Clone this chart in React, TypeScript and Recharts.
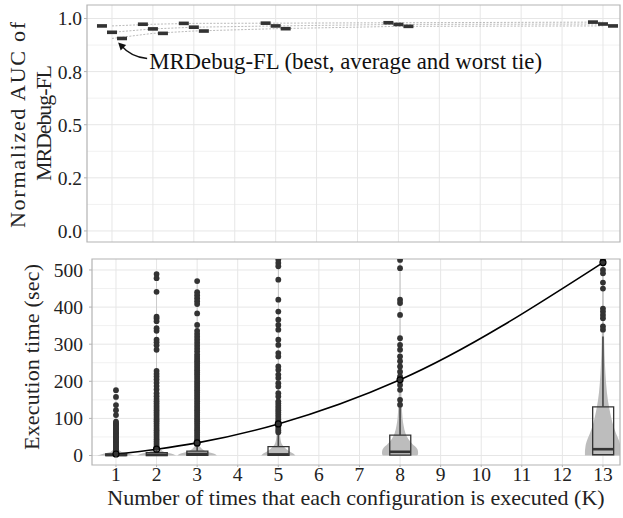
import {
  Area,
  Bar,
  ComposedChart,
  ErrorBar,
  Line,
  ReferenceArea,
  ReferenceDot,
  ReferenceLine,
  Scatter,
  XAxis,
  YAxis,
} from 'recharts'

// ---- data ----
const K_VALUES = [1, 2, 3, 5, 8, 13]
const K_TICKS = [1, 2, 3, 4, 5, 6, 7, 8, 9, 10, 11, 12, 13]

// top panel: normalized AUC of MRDebug-FL
const AUC_BEST = [0.965, 0.973, 0.977, 0.978, 0.98, 0.983]
const AUC_AVG = [0.935, 0.951, 0.959, 0.965, 0.972, 0.974]
const AUC_WORST = [0.906, 0.93, 0.941, 0.952, 0.963, 0.965]
const AUC_TICKS = [0, 0.25, 0.5, 0.75, 1]
const AUC_TICK_LABELS = ['0.0', '0.2', '0.5', '0.8', '1.0']
const AUC_MINOR = [0.125, 0.375, 0.625, 0.875]

// bottom panel: execution time (sec)
const BOX_Q1 = [0, 0, 0.5, 0.5, 1, 2]
const BOX_MEDIAN = [1.5, 2, 4, 3, 10, 17]
const BOX_Q3 = [4, 8, 12, 24, 55, 131]
const WHISKER_HI = [10, 20, 29, 58, 132, 321]
const MEAN_TIME = [4, 17, 34, 85, 204, 520]
const TIME_TICKS = [0, 100, 200, 300, 400, 500]
const TIME_MINOR = [50, 150, 250, 350, 450]

const OUT_K1 = [176, 158, 136, 122, 109, 91, 87, 84, 80, 77, 73, 70, 66, 63, 59, 56, 52, 49, 45, 42, 38, 35, 31, 28, 24, 21, 17, 14, 11]
const OUT_K2 = [
  489, 478, 441, 374, 369, 362, 343, 336, 312, 305, 297, 285, 228, 220, 213, 205, 196, 187, 178, 168, 160, 152, 146, 140,
  134, 128, 122, 116, 110, 104, 98, 92, 86, 80, 74, 68, 62, 56, 50, 44, 38, 32, 26, 21,
]
const OUT_K3 = [
  470, 440, 432, 424, 416, 408, 383, 352, 336, 328, 320, 312, 304, 296, 288, 280, 272, 266, 260, 254, 248, 242, 236, 230,
  224, 218, 212, 206, 200, 194, 188, 182, 176, 170, 164, 158, 152, 146, 140, 134, 128, 122, 116, 110, 104, 98, 92, 86,
  80, 74, 68, 62, 56, 50, 44, 38, 32,
]
const OUT_K5 = [
  528, 519, 510, 474, 420, 388, 366, 352, 339, 312, 298, 276, 267, 240, 231, 218, 209, 195, 186, 168, 159, 146, 140, 134,
  128, 122, 116, 110, 104, 98, 92, 86, 80, 74, 68, 63,
]
const OUT_K8 = [527, 505, 420, 411, 379, 316, 298, 285, 267, 254, 240, 226, 213, 204, 190, 177, 150, 137]
const OUT_K13 = [529, 518, 500, 491, 466, 450, 396, 388, 379, 370, 348, 339]

// violin densities (relative half width) at these time levels; null = outside data range
const VIOLIN_T = [0, 5, 10, 20, 30, 45, 60, 80, 100, 130, 170, 220, 270, 330, 400, 470, 525]
const VIOLIN_K1 = [1.05, 0.7, 0.28, 0.11, 0.07, 0.045, 0.035, 0.03, 0.025, 0.02, 0.018, null, null, null, null, null, null]
const VIOLIN_K2 = [1.1, 0.85, 0.4, 0.17, 0.09, 0.06, 0.045, 0.035, 0.03, 0.025, 0.02, 0.02, 0.02, 0.018, 0.018, 0.018, null]
const VIOLIN_K3 = [1.1, 0.95, 0.55, 0.22, 0.11, 0.075, 0.055, 0.045, 0.035, 0.03, 0.025, 0.022, 0.02, 0.02, 0.018, 0.018, null]
const VIOLIN_K5 = [0.95, 0.85, 0.65, 0.38, 0.2, 0.12, 0.09, 0.07, 0.055, 0.045, 0.035, 0.03, 0.025, 0.022, 0.02, 0.02, 0.02]
const VIOLIN_K8 = [0.95, 1.0, 1.0, 0.92, 0.7, 0.45, 0.3, 0.2, 0.14, 0.1, 0.07, 0.05, 0.04, 0.03, 0.025, 0.025, 0.025]
const VIOLIN_K13 = [1.0, 1.0, 1.0, 0.98, 0.95, 0.85, 0.72, 0.58, 0.47, 0.34, 0.22, 0.14, 0.09, 0.06, 0.045, 0.035, 0.03]

// ---- styling ----
const FONT = '"Liberation Serif", "DejaVu Serif", serif'
const TEXT = '#222'
const DARK = '#333'
const BORDER = '#b3b3b3'
const GRID = '#e6e6e6'
const GRID_MINOR = '#f1f1f1'
const VIOLIN_FILL = '#bdbdbd'
const DODGE = 0.245
const VIOLIN_HALF = 0.444
const TOP_X: [number, number] = [0.389, 13.416]
const TOP_Y: [number, number] = [-0.052, 1.0635]
const BOT_X: [number, number] = [0.409, 13.42]
const BOT_Y: [number, number] = [-25.6, 529.6]
const TOP_MARGIN = { top: 5, right: 3, bottom: 8, left: 87 }
const BOT_MARGIN = { top: 9, right: 3, bottom: 53, left: 92 }
const tick = { fontFamily: FONT, fontSize: 19.5, fill: TEXT }

const aucRows = K_VALUES.map((k, i) => ({ k, best: AUC_BEST[i], avg: AUC_AVG[i], worst: AUC_WORST[i] }))
const bestMarks = K_VALUES.map((k, i) => ({ k: k - DODGE, y: AUC_BEST[i] }))
const avgMarks = K_VALUES.map((k, i) => ({ k, y: AUC_AVG[i] }))
const worstMarks = K_VALUES.map((k, i) => ({ k: k + DODGE, y: AUC_WORST[i] }))

const boxRows = K_VALUES.map((k, i) => ({
  k,
  q1: BOX_Q1[i],
  q3: BOX_Q3[i],
  med: BOX_MEDIAN[i],
  mean: MEAN_TIME[i],
  err: [0, WHISKER_HI[i] - BOX_Q3[i]],
}))
const whiskerRows = boxRows.map((r) => ({ k: r.k, t: r.q3, err: r.err }))
const medianRows = boxRows.map((r) => ({ k: r.k, t: r.med }))
const outlierRows = [
  ...OUT_K1.map((t) => ({ k: 1, t })),
  ...OUT_K2.map((t) => ({ k: 2, t })),
  ...OUT_K3.map((t) => ({ k: 3, t })),
  ...OUT_K5.map((t) => ({ k: 5, t })),
  ...OUT_K8.map((t) => ({ k: 8, t })),
  ...OUT_K13.map((t) => ({ k: 13, t })),
]

const VIOLINS: [number, (number | null)[]][] = [
  [1, VIOLIN_K1],
  [2, VIOLIN_K2],
  [3, VIOLIN_K3],
  [5, VIOLIN_K5],
  [8, VIOLIN_K8],
  [13, VIOLIN_K13],
]
const violinRows = VIOLIN_T.map((t, i) => {
  const row: Record<string, unknown> = { t }
  VIOLINS.forEach(([k, dens]) => {
    const d = dens[i]
    row['v' + k] = d == null ? undefined : [k - d * VIOLIN_HALF, k + d * VIOLIN_HALF]
  })
  return row
})

const Mark = (p: any) => <rect x={p.cx - 5} y={p.cy - 1.8} width={10} height={3.6} fill={DARK} />
const MedianMark = (p: any) => (
  <line x1={p.cx - 10.5} x2={p.cx + 10.5} y1={p.cy} y2={p.cy} stroke={DARK} strokeWidth={2.6} />
)
const Empty = () => <g />

function Annotation({ cx, cy }: { cx: number; cy: number }) {
  return (
    <g>
      <path
        d={`M ${cx + 29} ${cy + 16} C ${cx + 18} ${cy + 15}, ${cx + 9} ${cy + 10}, ${cx + 3} ${cy + 3}`}
        fill="none"
        stroke="#111"
        strokeWidth={1.3}
      />
      <polygon points={`${cx},${cy} ${cx + 8},${cy + 2.5} ${cx + 2.5},${cy + 8}`} fill="#111" />
      <text x={cx + 31} y={cy + 27} fontFamily={FONT} fontSize={22.8} fill="#111">
        MRDebug-FL (best, average and worst tie)
      </text>
    </g>
  )
}

// light panel grid, drawn in its own layer so that it stays under every mark
function GridLayer({
  top,
  height,
  margin,
  xDomain,
  yDomain,
  major,
  minor,
}: {
  top: number
  height: number
  margin: typeof TOP_MARGIN
  xDomain: [number, number]
  yDomain: [number, number]
  major: number[]
  minor: number[]
}) {
  return (
    <ComposedChart
      width={623}
      height={height}
      data={K_VALUES.map((k) => ({ k }))}
      margin={margin}
      style={{ position: 'absolute', left: 0, top }}
    >
      <XAxis type="number" dataKey="k" domain={xDomain} hide allowDataOverflow />
      <YAxis type="number" domain={yDomain} hide allowDataOverflow />
      {minor.map((v) => (
        <ReferenceLine key={'m' + v} y={v} stroke={GRID_MINOR} strokeWidth={1} />
      ))}
      {major.map((v) => (
        <ReferenceLine key={'M' + v} y={v} stroke={GRID} strokeWidth={1} />
      ))}
      {K_TICKS.map((k) => (
        <ReferenceLine key={'x' + k} x={k} stroke={GRID} strokeWidth={1} />
      ))}
    </ComposedChart>
  )
}

function TopPanel() {
  return (
    <ComposedChart
      width={623}
      height={250}
      data={aucRows}
      margin={{ ...TOP_MARGIN, left: 0 }}
      style={{ position: 'absolute', left: 0, top: 0 }}
    >
      <XAxis type="number" dataKey="k" domain={TOP_X} hide allowDataOverflow />
      <YAxis
        type="number"
        domain={TOP_Y}
        ticks={AUC_TICKS}
        tickFormatter={(_v: number, i: number) => AUC_TICK_LABELS[i]}
        width={87}
        tick={tick}
        axisLine={false}
        tickLine={{ stroke: BORDER }}
        tickSize={3}
        tickMargin={2}
        allowDataOverflow
      />
      {(['best', 'avg', 'worst'] as const).map((key) => (
        <Line
          key={key}
          dataKey={key}
          type="linear"
          stroke="#a8a8a8"
          strokeWidth={0.8}
          strokeDasharray="2 1.5"
          dot={false}
          isAnimationActive={false}
        />
      ))}
      <Scatter data={bestMarks} dataKey="y" shape={Mark} isAnimationActive={false} />
      <Scatter data={avgMarks} dataKey="y" shape={Mark} isAnimationActive={false} />
      <Scatter data={worstMarks} dataKey="y" shape={Mark} isAnimationActive={false} />
      <ReferenceDot
        x={1.15}
        y={0.887}
        r={0}
        ifOverflow="visible"
        shape={(p: any) => <Annotation cx={p.cx} cy={p.cy} />}
      />
      <ReferenceArea
        x1={TOP_X[0]}
        x2={TOP_X[1]}
        y1={TOP_Y[0]}
        y2={TOP_Y[1]}
        fill="none"
        stroke={BORDER}
        strokeWidth={1.2}
        fillOpacity={0}
      />
    </ComposedChart>
  )
}

function ViolinLayer() {
  return (
    <ComposedChart
      layout="vertical"
      width={623}
      height={268}
      data={violinRows}
      margin={BOT_MARGIN}
      style={{ position: 'absolute', left: 0, top: 250 }}
    >
      <XAxis type="number" domain={BOT_X} hide allowDataOverflow />
      <YAxis type="number" dataKey="t" domain={BOT_Y} reversed hide allowDataOverflow />
      {VIOLINS.map(([k]) => (
        <Area
          key={k}
          dataKey={'v' + k}
          type="monotone"
          fill={VIOLIN_FILL}
          fillOpacity={1}
          stroke="none"
          isAnimationActive={false}
        />
      ))}
    </ComposedChart>
  )
}

function TimePanel() {
  return (
    <ComposedChart
      width={623}
      height={268}
      data={boxRows}
      margin={{ ...BOT_MARGIN, left: 0, bottom: 0 }}
      style={{ position: 'absolute', left: 0, top: 250 }}
    >
      <XAxis
        type="number"
        dataKey="k"
        domain={BOT_X}
        ticks={K_TICKS}
        height={53}
        tick={tick}
        axisLine={false}
        tickLine={{ stroke: BORDER }}
        tickSize={2}
        tickMargin={0}
        allowDataOverflow
      />
      <YAxis
        type="number"
        domain={BOT_Y}
        ticks={TIME_TICKS}
        width={92}
        tick={tick}
        axisLine={false}
        tickLine={{ stroke: BORDER }}
        tickSize={3}
        tickMargin={6}
        allowDataOverflow
      />
      <Bar
        dataKey={(d: any) => [d.q1, d.q3]}
        barSize={21}
        fill="none"
        stroke={DARK}
        strokeWidth={1.3}
        isAnimationActive={false}
      />
      <Scatter data={whiskerRows} dataKey="t" shape={Empty} isAnimationActive={false}>
        <ErrorBar dataKey="err" direction="y" width={0} stroke="#444" strokeWidth={1.6} />
      </Scatter>
      <Scatter data={medianRows} dataKey="t" shape={MedianMark} isAnimationActive={false} />
      <Scatter
        data={outlierRows}
        dataKey="t"
        shape={(p: any) => <circle cx={p.cx} cy={p.cy} r={2.9} fill={DARK} />}
        isAnimationActive={false}
      />
      <Line
        dataKey="mean"
        type="monotone"
        stroke="#000"
        strokeWidth={1.6}
        dot={(p: any) => <circle key={p.index} cx={p.cx} cy={p.cy} r={3} fill="none" stroke="#000" strokeWidth={1.2} />}
        isAnimationActive={false}
      />
      <ReferenceArea
        x1={BOT_X[0]}
        x2={BOT_X[1]}
        y1={BOT_Y[0]}
        y2={BOT_Y[1]}
        fill="none"
        fillOpacity={0}
        stroke={BORDER}
        strokeWidth={1.2}
      />
    </ComposedChart>
  )
}

export default function App() {
  return (
    <div style={{ position: 'absolute', left: 0, top: 0, width: 623, height: 518, background: '#fff', fontFamily: FONT }}>
      <GridLayer
        top={0}
        height={250}
        margin={TOP_MARGIN}
        xDomain={TOP_X}
        yDomain={TOP_Y}
        major={AUC_TICKS}
        minor={AUC_MINOR}
      />
      <TopPanel />
      <GridLayer
        top={250}
        height={268}
        margin={BOT_MARGIN}
        xDomain={BOT_X}
        yDomain={BOT_Y}
        major={TIME_TICKS}
        minor={TIME_MINOR}
      />
      <ViolinLayer />
      <TimePanel />
      <svg width={623} height={518} style={{ position: 'absolute', left: 0, top: 0, pointerEvents: 'none' }}>
        <g fontFamily={FONT} fontSize={22} fill={TEXT} textAnchor="middle">
          <text transform="translate(17,125) rotate(-90)" dominantBaseline="central" textLength={206}>
            Normalized AUC of
          </text>
          <text transform="translate(43,123) rotate(-90)" dominantBaseline="central" textLength={116}>
            MRDebug-FL
          </text>
          <text transform="translate(31,357) rotate(-90)" dominantBaseline="central" textLength={186}>
            Execution time (sec)
          </text>
          <text x={356} y={505}>
            Number of times that each configuration is executed (K)
          </text>
        </g>
      </svg>
    </div>
  )
}
